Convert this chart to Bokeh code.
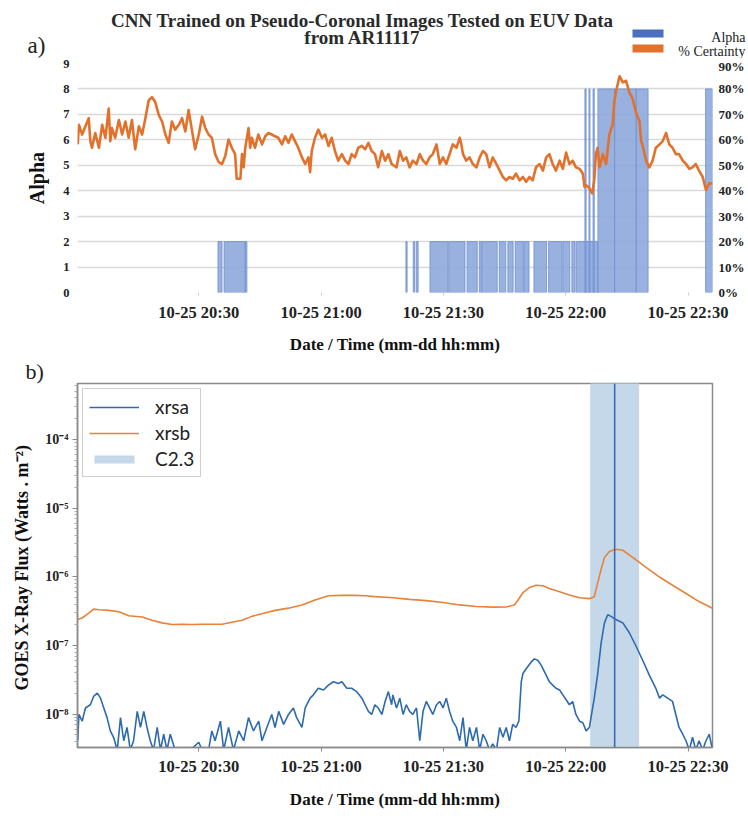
import pandas as pd
from bokeh.plotting import figure
from bokeh.layouts import column, row
from bokeh.core.properties import value
from bokeh.models import (Range1d, LinearAxis, FixedTicker, DatetimeTickFormatter,
                          PrintfTickFormatter, CustomJSTickFormatter, Legend, LegendItem,
                          Span)
from bokeh.embed import file_html
from bokeh.resources import INLINE

# ---------------- data ----------------
DAY = "2010-10-25"
START_HOUR = 20
tick_times = ["20:30", "21:00", "21:30", "22:00", "22:30"]
x_window = (0.25, 156.0)  # minutes after 20:00

title_lines = ["CNN Trained on Pseudo-Coronal Images Tested on EUV Data", "from AR11117"]
panel_tags = ["a)", "b)"]
legend_a = ["Alpha", "% Certainty"]

# panel a: CNN % certainty (minutes after 20:00, percent)
cert_minutes = [
    0.3, 0.6, 1.4, 2.2, 3.0, 3.4, 3.8, 4.6, 5.5, 6.3,
    7.1, 7.9, 8.3, 8.7, 9.5, 10.4, 11.2, 12.0, 12.8, 13.6,
    14.4, 15.3, 16.1, 16.9, 17.7, 18.5, 19.3, 20.2, 21.0, 21.8,
    22.6, 23.4, 24.2, 25.1, 25.9, 26.7, 27.5, 28.3, 29.1, 30.0,
    30.8, 31.6, 32.4, 33.2, 34.0, 34.9, 35.7, 36.5, 37.3, 38.1,
    38.9, 39.3, 40.2, 40.6, 41.0, 41.4, 42.2, 42.6, 43.0, 43.8,
    44.6, 45.5, 46.3, 47.1, 47.9, 48.7, 49.5, 50.4, 51.2, 52.0,
    52.8, 53.6, 54.4, 55.3, 56.1, 56.9, 57.3, 57.7, 58.5, 59.3,
    60.2, 61.0, 61.8, 62.6, 63.4, 64.2, 65.1, 65.9, 66.7, 67.5,
    68.3, 69.1, 70.0, 70.8, 71.6, 72.4, 73.2, 74.0, 74.9, 75.7,
    76.5, 77.3, 78.5, 79.3, 80.1, 80.9, 81.7, 82.5, 83.4, 84.2,
    85.0, 85.8, 86.6, 87.4, 88.3, 88.7, 89.1, 89.9, 90.7, 91.5,
    92.3, 93.2, 94.0, 94.4, 94.8, 95.6, 96.4, 97.2, 98.1, 98.9,
    99.7, 100.5, 101.3, 102.1, 103.0, 103.8, 104.6, 105.4, 106.2, 107.0,
    107.8, 108.7, 109.5, 110.3, 111.1, 111.9, 112.7, 113.6, 114.4, 115.2,
    116.0, 116.8, 117.6, 118.5, 119.3, 120.1, 120.9, 121.7, 122.5, 123.4,
    124.2, 124.6, 125.0, 125.8, 126.5, 127.0, 127.4, 127.8, 128.3, 129.1,
    129.9, 130.7, 131.5, 131.9, 132.3, 133.2, 134.0, 134.8, 135.6, 136.4,
    137.2, 138.1, 138.5, 138.9, 139.7, 140.5, 141.3, 142.1, 143.0, 143.8,
    144.6, 145.4, 146.2, 147.0, 147.8, 148.7, 149.5, 150.3, 151.1, 151.9,
    152.7, 153.6, 154.4, 155.2, 156.0,
]
cert_pct = [
    58.2, 65.9, 62.1, 65.3, 68.5, 59.5, 56.9, 62.7, 56.9, 65.9,
    60.8, 72.3, 59.5, 64.6, 60.8, 67.8, 62.1, 67.2, 60.8, 67.8,
    56.3, 65.3, 62.1, 68.5, 75.5, 76.8, 74.9, 69.7, 67.2, 62.1,
    58.8, 67.2, 64.0, 65.9, 68.5, 63.3, 71.7, 64.0, 56.3, 62.1,
    69.1, 64.6, 62.1, 60.8, 54.4, 51.2, 50.5, 53.7, 60.1, 56.9,
    54.4, 44.7, 44.7, 54.4, 49.2, 56.9, 64.6, 56.9, 60.8, 56.9,
    62.1, 58.2, 61.4, 62.7, 62.1, 61.4, 60.8, 58.2, 61.4, 58.8,
    62.1, 59.5, 56.9, 53.1, 50.5, 53.1, 47.3, 55.6, 60.8, 64.0,
    60.8, 62.1, 57.6, 60.8, 55.6, 51.8, 54.4, 51.8, 50.5, 54.4,
    53.1, 56.9, 57.6, 56.3, 58.8, 55.6, 54.4, 49.2, 55.6, 51.8,
    54.4, 50.5, 49.2, 55.6, 51.8, 53.1, 49.2, 51.8, 50.5, 54.4,
    51.8, 50.5, 53.1, 54.4, 58.2, 54.4, 50.5, 53.1, 50.5, 54.4,
    58.2, 56.9, 60.8, 58.2, 54.4, 51.8, 53.1, 50.5, 49.2, 53.1,
    55.6, 54.4, 49.2, 53.1, 50.5, 47.9, 45.4, 44.1, 45.4, 44.7,
    46.7, 44.1, 45.4, 43.5, 45.4, 44.1, 49.2, 50.5, 47.9, 53.1,
    54.4, 50.5, 47.9, 51.8, 48.6, 55.0, 50.5, 51.8, 49.2, 48.6,
    46.7, 41.5, 42.2, 40.9, 39.0, 44.1, 54.4, 56.9, 49.2, 54.4,
    50.5, 62.1, 65.9, 74.9, 78.7, 85.0, 82.6, 83.2, 78.7, 76.2,
    71.0, 67.2, 59.5, 57.6, 51.8, 49.2, 51.8, 56.9, 58.2, 59.5,
    62.7, 58.2, 56.9, 54.4, 54.4, 51.8, 50.5, 48.6, 49.2, 50.5,
    47.9, 45.4, 40.3, 42.9, 42.9,
]

# panel a: predicted alpha class, as intervals (minutes after 20:00)
alpha_start = [34.7, 36.2, 41.4, 80.8, 82.6, 83.3, 86.7, 91.3, 95.8, 98.8,
               99.5, 103.7, 105.8, 107.6, 109.8, 112.2, 115.8, 119.3, 121.5, 122.6,
               124.7, 125.7, 126.7, 127.9, 132.0, 137.3, 154.3]
alpha_end = [35.7, 41.4, 41.8, 81.1, 82.9, 83.8, 91.1, 95.3, 98.3, 99.3,
             103.2, 105.3, 107.1, 109.6, 111.0, 115.3, 119.1, 121.0, 122.3, 127.9,
             125.0, 125.95, 127.0, 132.0, 137.3, 140.2, 156.0]
alpha_value = [2, 2, 2, 2, 2, 2, 2, 2, 2, 2,
               2, 2, 2, 2, 2, 2, 2, 2, 2, 2,
               8, 8, 8, 8, 8, 8, 8]

# panel b: GOES X-ray flux (W m^-2)
xrsa_minutes = [
    0.3, 0.6, 1.4, 2.2, 3.4, 4.2, 5.1, 5.9, 6.7, 7.5,
    8.3, 9.1, 10.0, 10.8, 11.6, 12.4, 13.2, 14.0, 14.9, 15.7,
    16.5, 17.3, 18.1, 18.9, 19.8, 20.6, 21.4, 22.2, 23.0, 24.2,
    25.9, 27.9, 30.0, 30.8, 32.4, 33.2, 34.0, 35.3, 36.1, 37.3,
    38.5, 39.8, 41.0, 42.2, 43.4, 44.7, 45.5, 46.7, 47.9, 48.7,
    49.6, 50.8, 52.0, 53.2, 54.0, 55.3, 56.1, 57.3, 58.1, 59.3,
    60.6, 61.8, 63.0, 64.2, 65.1, 66.3, 67.5, 68.7, 70.0, 70.8,
    71.6, 72.4, 73.2, 74.0, 74.9, 75.7, 76.5, 77.3, 77.6, 78.5,
    79.3, 80.1, 80.9, 81.7, 82.5, 83.4, 84.2, 85.0, 85.8, 86.6,
    87.4, 88.3, 89.1, 89.9, 90.7, 91.5, 92.3, 93.2, 94.0, 94.8,
    95.6, 96.4, 97.2, 98.1, 98.9, 99.7, 100.5, 101.3, 102.1, 103.0,
    103.8, 104.6, 105.4, 106.2, 107.0, 107.8, 108.5, 109.1, 109.5, 110.3,
    111.5, 112.3, 113.2, 114.0, 115.2, 116.0, 116.8, 117.6, 118.5, 119.3,
    120.1, 120.9, 121.7, 122.5, 123.4, 124.2, 125.0, 125.8, 126.2, 127.0,
    127.8, 128.7, 129.5, 130.3, 131.1, 132.3, 134.0, 135.6, 137.2, 138.9,
    140.5, 142.1, 143.0, 143.8, 145.0, 146.2, 147.0, 147.8, 148.7, 149.5,
    150.3, 151.1, 151.9, 152.7, 153.6, 154.4, 155.2, 156.0,
]
xrsa_flux = [
    4.1e-9, 9.9e-9, 7.9e-9, 1.23e-8, 1.37e-8, 1.81e-8, 2.02e-8, 1.71e-8, 1.23e-8, 8.9e-9,
    5.7e-9, 4.6e-9, 3.0e-9, 8.9e-9, 4.1e-9, 6.4e-9, 3.0e-9, 4.1e-9, 1.1e-8, 6.4e-9,
    1.1e-8, 6.4e-9, 4.1e-9, 3.0e-9, 6.4e-9, 3.0e-9, 5.1e-9, 3.0e-9, 5.1e-9, 3.0e-9,
    3.0e-9, 3.0e-9, 3.9e-9, 3.0e-9, 3.0e-9, 5.7e-9, 4.1e-9, 7.9e-9, 3.0e-9, 6.4e-9,
    3.0e-9, 5.7e-9, 4.1e-9, 8.9e-9, 5.7e-9, 7.9e-9, 4.1e-9, 6.4e-9, 9.9e-9, 6.4e-9,
    1.1e-8, 7.1e-9, 9.9e-9, 1.23e-8, 8.9e-9, 6.4e-9, 1.23e-8, 1.71e-8, 1.91e-8, 2.38e-8,
    2.25e-8, 2.65e-8, 2.96e-8, 2.8e-8, 2.96e-8, 2.38e-8, 2.38e-8, 2.13e-8, 1.71e-8, 1.37e-8,
    1.1e-8, 9.9e-9, 1.37e-8, 1.23e-8, 9.9e-9, 1.53e-8, 2.13e-8, 1.37e-8, 1.91e-8, 1.23e-8,
    1.71e-8, 9.9e-9, 1.37e-8, 1.1e-8, 9.9e-9, 1.23e-8, 4.1e-9, 1.1e-8, 1.53e-8, 1.23e-8,
    9.9e-9, 1.37e-8, 1.53e-8, 1.23e-8, 1.71e-8, 1.1e-8, 7.9e-9, 6.4e-9, 4.1e-9, 8.9e-9,
    3.0e-9, 6.4e-9, 4.1e-9, 6.4e-9, 3.0e-9, 5.1e-9, 4.1e-9, 3.0e-9, 3.7e-9, 3.0e-9,
    6.4e-9, 4.6e-9, 6.4e-9, 4.1e-9, 7.1e-9, 6.4e-9, 7.9e-9, 2.96e-8, 3.9e-8, 4.59e-8,
    5.71e-8, 6.38e-8, 6.04e-8, 5.13e-8, 3.69e-8, 2.96e-8, 2.65e-8, 2.38e-8, 2.25e-8, 1.91e-8,
    1.62e-8, 1.37e-8, 1.53e-8, 9.9e-9, 7.9e-9, 7.5e-9, 5.7e-9, 6.4e-9, 8.9e-9, 1.71e-8,
    3.69e-8, 1.1e-7, 2.13e-7, 2.8e-7, 2.65e-7, 2.38e-7, 2.13e-7, 1.53e-7, 9.9e-8, 6.04e-8,
    3.69e-8, 2.38e-8, 1.71e-8, 1.91e-8, 1.71e-8, 1.53e-8, 9.9e-9, 6.4e-9, 5.1e-9, 4.1e-9,
    3.0e-9, 4.6e-9, 3.0e-9, 4.1e-9, 3.0e-9, 4.1e-9, 5.1e-9, 3.0e-9,
]
xrsb_minutes = [
    0.3, 1.4, 3.0, 4.2, 5.5, 7.9, 10.4, 12.8, 16.1, 18.5,
    21.0, 23.4, 25.9, 28.3, 30.8, 33.2, 35.7, 38.1, 40.6, 43.0,
    45.5, 48.7, 52.0, 55.3, 58.5, 61.8, 65.1, 68.3, 70.8, 73.2,
    77.6, 81.7, 85.8, 89.9, 94.0, 98.1, 102.1, 105.4, 107.4, 108.3,
    109.5, 111.1, 112.7, 114.4, 116.0, 118.5, 120.9, 123.4, 125.8, 127.0,
    127.8, 128.7, 129.5, 130.7, 132.3, 134.0, 136.4, 139.7, 143.0, 146.2,
    149.5, 152.7, 156.0,
]
xrsb_flux = [
    2.38e-7, 2.51e-7, 2.96e-7, 3.38e-7, 3.31e-7, 3.24e-7, 3.09e-7, 2.71e-7, 2.59e-7, 2.33e-7,
    2.13e-7, 2.02e-7, 2.04e-7, 2.02e-7, 2.04e-7, 2.04e-7, 2.04e-7, 2.18e-7, 2.33e-7, 2.65e-7,
    2.9e-7, 3.24e-7, 3.49e-7, 3.89e-7, 4.59e-7, 5.3e-7, 5.36e-7, 5.36e-7, 5.3e-7, 5.13e-7,
    4.95e-7, 4.68e-7, 4.49e-7, 4.21e-7, 3.89e-7, 3.69e-7, 3.61e-7, 3.63e-7, 3.89e-7, 4.59e-7,
    5.85e-7, 6.97e-7, 7.52e-7, 7.41e-7, 6.75e-7, 6.04e-7, 5.41e-7, 4.95e-7, 4.8e-7, 5.13e-7,
    7.94e-7, 1.3e-6, 1.91e-6, 2.33e-6, 2.51e-6, 2.43e-6, 1.91e-6, 1.37e-6, 9.9e-7, 7.52e-7,
    5.71e-7, 4.35e-7, 3.49e-7,
]
flare_label = "C2.3"
flare_start, flare_peak, flare_end = "22:06", "22:12", "22:18"
flux_window = (3.27e-9, 6.5e-4)
flux_decades = [-8, -7, -6, -5, -4]

# ---------------- helpers ----------------
BASE = pd.Timestamp(f"{DAY} {START_HOUR:02d}:00:00")
EPOCH = pd.Timestamp("1970-01-01")


def ms(minutes):
    return (BASE + pd.Timedelta(minutes=float(minutes)) - EPOCH) / pd.Timedelta(milliseconds=1)


def clock_min(hhmm):
    h, m = hhmm.split(":")
    return int(h) * 60 + int(m) - START_HOUR * 60


SERIF = "Liberation Serif"
W = 748
FMT = "%m-%d %H:%M"
dt_fmt = DatetimeTickFormatter(milliseconds=FMT, seconds=FMT, minsec=FMT, minutes=FMT,
                               hourmin=FMT, hours=FMT, days=FMT, months=FMT, years=FMT)
tick_ms = [ms(clock_min(t)) for t in tick_times]
xr = Range1d(ms(x_window[0]), ms(x_window[1]))
BLUE_BAR, BLUE_SW, ORANGE = "#8ea8dc", "#4a6fc2", "#e2712c"

# ---------------- header of panel a (title, tag, legend) ----------------
HH = 58
p0 = figure(width=W, height=HH, x_range=Range1d(0, W), y_range=Range1d(HH, 0),
            output_backend="svg", toolbar_location=None, title_location=None,
            x_axis_location=None, y_axis_location=None, min_border=0)
p0.outline_line_color = None
p0.grid.visible = False
p0.text(x=[362, 362], y=[20, 37], text=title_lines, text_align="center",
        text_baseline="alphabetic", text_font=value(SERIF), text_font_style="bold",
        text_font_size="19px", text_color="#2a2a2a")
p0.text(x=[27], y=[45], text=[panel_tags[0]], text_baseline="alphabetic",
        text_font=value(SERIF), text_font_size="23px", text_color="#222")
p0.quad(left=[632, 632], right=[663, 663], top=[29, 44], bottom=[37, 52],
        fill_color=[BLUE_SW, ORANGE], line_color=None)
p0.text(x=[745, 745], y=[37, 51], text=legend_a, text_align="right",
        text_baseline="alphabetic", text_font=value(SERIF), text_font_size="14px",
        text_color="#222")

# ---------------- panel a ----------------
p1 = figure(width=W, height=298, x_axis_type="datetime", x_range=xr,
            y_range=Range1d(0, 9), output_backend="svg", toolbar_location=None,
            title_location=None, min_border_left=77, min_border_right=36,
            min_border_top=5, min_border_bottom=59)
p1.outline_line_color = None
p1.extra_y_ranges = {"pct": Range1d(0, 90)}

p1.quad(left=[ms(v) for v in alpha_start], right=[ms(v) for v in alpha_end],
        bottom=0, top=alpha_value, fill_color=BLUE_BAR, fill_alpha=0.9,
        line_color="#6f8fd2", line_width=0.8)
p1.line([ms(v) for v in cert_minutes], cert_pct, y_range_name="pct",
        line_color=ORANGE, line_width=2.6, line_join="round")

p1.xgrid.visible = False
p1.ygrid.grid_line_color = "#d9d9d9"
p1.ygrid.grid_line_width = 1.5

ya = p1.yaxis[0]
ya.ticker = FixedTicker(ticks=list(range(10)))
ya.axis_line_color = None
ya.major_tick_line_color = None
ya.major_tick_in = 0
ya.major_tick_out = 0
ya.minor_tick_line_color = None
ya.major_label_standoff = 8
ya.major_label_text_font = SERIF
ya.major_label_text_font_style = "bold"
ya.major_label_text_font_size = "12.5px"
ya.major_label_text_color = "#222"
ya.axis_label = "Alpha"
ya.axis_label_text_font = SERIF
ya.axis_label_text_font_style = "bold"
ya.axis_label_text_font_size = "20px"
ya.axis_label_text_color = "#111"
ya.axis_label_standoff = 12

ra = LinearAxis(y_range_name="pct", ticker=FixedTicker(ticks=list(range(0, 100, 10))),
                formatter=PrintfTickFormatter(format="%d%%"))
ra.axis_line_color = None
ra.major_tick_line_color = None
ra.major_tick_in = 0
ra.major_tick_out = 0
ra.minor_tick_line_color = None
ra.major_label_standoff = 6
ra.major_label_text_font = SERIF
ra.major_label_text_font_style = "bold"
ra.major_label_text_font_size = "13px"
ra.major_label_text_color = "#222"
p1.add_layout(ra, "right")

xa = p1.xaxis[0]
xa.ticker = FixedTicker(ticks=tick_ms)
xa.formatter = dt_fmt
xa.axis_line_color = None
xa.major_tick_line_color = "#cccccc"
xa.major_tick_in = 0
xa.major_tick_out = 3
xa.minor_tick_line_color = None
xa.major_label_standoff = 7
xa.major_label_text_font = SERIF
xa.major_label_text_font_style = "bold"
xa.major_label_text_font_size = "16.5px"
xa.major_label_text_color = "#222"
xa.axis_label = "Date / Time (mm-dd hh:mm)"
xa.axis_label_text_font = SERIF
xa.axis_label_text_font_style = "bold"
xa.axis_label_text_font_size = "17px"
xa.axis_label_text_color = "#111"
xa.axis_label_standoff = 10

# ---------------- panel b ----------------
p2 = figure(width=W, height=462, x_axis_type="datetime", y_axis_type="log",
            x_range=xr, y_range=Range1d(*flux_window), output_backend="svg",
            toolbar_location=None, title=panel_tags[1], title_location="above",
            min_border_left=77, min_border_right=36, min_border_top=0,
            min_border_bottom=71)
p2.title.align = "left"
p2.title.offset = -52
p2.title.standoff = 0
p2.title.text_font = SERIF
p2.title.text_font_style = "normal"
p2.title.text_font_size = "22px"
p2.title.text_color = "#222"
p2.outline_line_color = "#8a8a8a"
p2.outline_line_width = 1.5
p2.grid.visible = False

shade = p2.quad(left=[ms(clock_min(flare_start))], right=[ms(clock_min(flare_end))],
                bottom=[1e-12], top=[1e-1], fill_color="#c5d8ea", line_color=None)
ra_line = p2.line([ms(v) for v in xrsa_minutes], xrsa_flux, line_color="#2e6aae",
                  line_width=1.6)
rb_line = p2.line([ms(v) for v in xrsb_minutes], xrsb_flux, line_color="#e8823a",
                  line_width=1.6)
p2.add_layout(Span(location=ms(clock_min(flare_peak)), dimension="height",
                   line_color="#3a6cb2", line_width=1.6))

leg2 = Legend(items=[LegendItem(label="xrsa", renderers=[ra_line]),
                     LegendItem(label="xrsb", renderers=[rb_line]),
                     LegendItem(label=flare_label, renderers=[shade])],
              location="top_left", margin=5, padding=6, spacing=3,
              glyph_width=50, glyph_height=10, label_height=20, label_standoff=16,
              border_line_color="#a0a0a0", border_line_width=1.5,
              background_fill_color="white", background_fill_alpha=1,
              label_text_font="Lato", label_text_font_size="19px", label_text_color="#222")
p2.add_layout(leg2)

major_ticks = [10.0 ** d for d in flux_decades]
minor_ticks = [k * 10.0 ** d for d in range(flux_decades[0] - 1, flux_decades[-1] + 1)
               for k in range(2, 10)]
yb = p2.yaxis[0]
yb.ticker = FixedTicker(ticks=major_ticks, minor_ticks=minor_ticks)
yb.formatter = CustomJSTickFormatter(code="""
const e = Math.round(Math.log10(tick));
const sup = {"-": "\u207b", "0": "\u2070", "1": "\u00b9", "2": "\u00b2", "3": "\u00b3",
             "4": "\u2074", "5": "\u2075", "6": "\u2076", "7": "\u2077", "8": "\u2078", "9": "\u2079"};
return "10" + String(e).split("").map(c => sup[c]).join("");
""")
yb.axis_line_color = "#8a8a8a"
yb.axis_line_width = 1.5
yb.major_tick_line_color = "#8a8a8a"
yb.major_tick_in = 0
yb.major_tick_out = 5
yb.minor_tick_line_color = "#aaaaaa"
yb.minor_tick_in = 0
yb.minor_tick_out = 3
yb.major_label_standoff = 4
yb.major_label_text_font = SERIF
yb.major_label_text_font_style = "bold"
yb.major_label_text_font_size = "14px"
yb.major_label_text_color = "#222"
yb.axis_label = "GOES X-Ray Flux  (Watts . m\u207b\u00b2)"
yb.axis_label_text_font = SERIF
yb.axis_label_text_font_style = "bold"
yb.axis_label_text_font_size = "18px"
yb.axis_label_text_color = "#111"
yb.axis_label_standoff = 10

xb = p2.xaxis[0]
xb.ticker = FixedTicker(ticks=tick_ms)
xb.formatter = dt_fmt
xb.axis_line_color = "#8a8a8a"
xb.axis_line_width = 1.5
xb.major_tick_line_color = "#8a8a8a"
xb.major_tick_in = 0
xb.major_tick_out = 4
xb.minor_tick_line_color = None
xb.major_label_standoff = 5
xb.major_label_text_font = SERIF
xb.major_label_text_font_style = "bold"
xb.major_label_text_font_size = "16.5px"
xb.major_label_text_color = "#222"
xb.axis_label = "Date / Time (mm-dd hh:mm)"
xb.axis_label_text_font = SERIF
xb.axis_label_text_font_style = "bold"
xb.axis_label_text_font_size = "17px"
xb.axis_label_text_color = "#111"
xb.axis_label_standoff = 11

layout = column(row(p0), p1, p2)
open("out.html", "w").write(file_html(layout, INLINE))
